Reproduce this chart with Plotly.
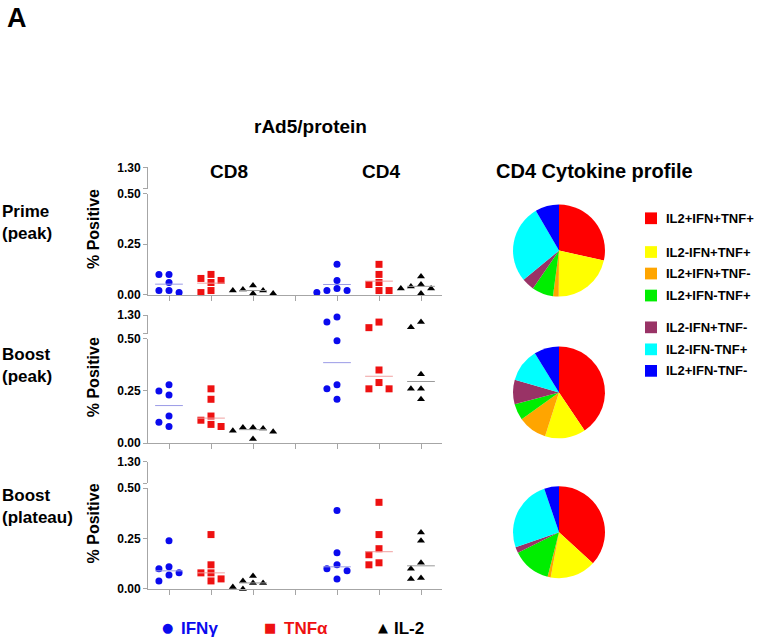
import numpy as np
import plotly.graph_objects as go

W, H = 760, 640

# ---------------- data ----------------
row_labels = ["Prime<br>(peak)", "Boost<br>(peak)", "Boost<br>(plateau)"]
row_stat = ["mean", "median", "median"]        # statistic drawn as the short horizontal bar
subsets = ["CD8", "CD4"]
cytokines = ["IFNγ", "TNFα", "IL-2"]

# % positive cells, one value per animal
prime_cd8_ifn = [0.10, 0.10, 0.06, 0.02, 0.01, 0.02]
prime_cd8_tnf = [0.10, 0.07, 0.06, 0.08, 0.01, 0.02]
prime_cd8_il2 = [0.045, 0.02, 0.025, 0.02, 0.005, 0.005]
prime_cd4_ifn = [0.15, 0.07, 0.02, 0.01, 0.03, 0.02]
prime_cd4_tnf = [0.15, 0.10, 0.05, 0.06, 0.02, 0.02]
prime_cd4_il2 = [0.09, 0.03, 0.05, 0.04, 0.03, 0.005]

boost_cd8_ifn = [0.28, 0.25, 0.23, 0.13, 0.08, 0.10]
boost_cd8_tnf = [0.26, 0.21, 0.13, 0.11, 0.08, 0.09]
boost_cd8_il2 = [0.075, 0.07, 0.075, 0.06, 0.055, 0.02]
boost_cd4_ifn = [1.22, 1.0, 0.49, 0.28, 0.26, 0.21]
boost_cd4_tnf = [0.76, 1.0, 0.35, 0.29, 0.26, 0.26]
boost_cd4_il2 = [0.78, 1.0, 0.33, 0.26, 0.26, 0.21]

plateau_cd8_ifn = [0.24, 0.11, 0.10, 0.08, 0.07, 0.04]
plateau_cd8_tnf = [0.27, 0.12, 0.08, 0.08, 0.05, 0.04]
plateau_cd8_il2 = [0.065, 0.03, 0.04, 0.03, 0.0, 0.01]
plateau_cd4_ifn = [0.39, 0.18, 0.12, 0.10, 0.09, 0.05]
plateau_cd4_tnf = [0.43, 0.27, 0.20, 0.17, 0.13, 0.12]
plateau_cd4_il2 = [0.28, 0.24, 0.13, 0.10, 0.05, 0.055]

panels = [
    [[prime_cd8_ifn, prime_cd8_tnf, prime_cd8_il2], [prime_cd4_ifn, prime_cd4_tnf, prime_cd4_il2]],
    [[boost_cd8_ifn, boost_cd8_tnf, boost_cd8_il2], [boost_cd4_ifn, boost_cd4_tnf, boost_cd4_il2]],
    [[plateau_cd8_ifn, plateau_cd8_tnf, plateau_cd8_il2], [plateau_cd4_ifn, plateau_cd4_tnf, plateau_cd4_il2]],
]

y_ticks_low = [0.0, 0.25, 0.5]
y_ticks_high = [0.5, 1.3]

# CD4 cytokine profile (% of responding CD4 cells), clockwise from 12 o'clock
profile_labels = ["IL2+IFN+TNF+", "IL2-IFN+TNF+", "IL2+IFN+TNF-", "IL2+IFN-TNF+",
                  "IL2-IFN+TNF-", "IL2-IFN-TNF+", "IL2+IFN-TNF-"]
profile_prime = [28.5, 21.6, 2.0, 7.5, 4.4, 27.6, 8.4]
profile_boost = [40.6, 14.3, 10.2, 5.7, 8.6, 11.8, 8.8]
profile_plateau = [36.8, 16.1, 1.1, 13.6, 2.1, 25.1, 5.2]
profiles = [profile_prime, profile_boost, profile_plateau]

# ---------------- styles / layout helpers ----------------
FONT = "Liberation Sans, Arial, sans-serif"
AX = "#a6a6a6"
cyto_color = ["#0a0aee", "#ee1111", "#000000"]
cyto_symbol = ["circle", "square", "triangle-up"]
bar_color = ["#9a9ae6", "#f0a0a0", "#9a9a9a"]
pie_colors = ["#ff0000", "#ffff00", "#ffa500", "#00ee00", "#993366", "#00ffff", "#0000ff"]


def px(x):
    return x / W


def py(y):
    return 1 - y / H


panel_bottom = [294, 446, 595]      # pixel row of 0.00
low_h = [103, 107, 103]             # pixels from 0.00 to 0.50
gap = 5
top_px = [164, 315, 465]            # pixel row of 1.30
x_left, x_right = 148, 442
pie_cy = [249, 394, 537]
pie_cx, pie_r = 559, 47

fig = go.Figure()
layout = {}

STEP = 0.24  # horizontal spread step (category units) for overlapping points


def y_to_px(v, p):
    if v <= 0.5:
        return v * low_h[p] / 0.5
    top = panel_bottom[p] - top_px[p]
    return low_h[p] + gap + (v - 0.5) / 0.8 * (top - low_h[p] - gap)


def spread(vals, p):
    order = np.argsort(vals)[::-1]
    placed = []
    offs = [0.0] * len(vals)
    for i in order:
        yp = y_to_px(vals[i], p)
        for k in [0, -1, 1, -2, 2, -3, 3]:
            if all(not (kk == k and abs(yy - yp) < 7) for kk, yy in placed):
                placed.append((k, yp))
                offs[i] = k * STEP
                break
    return offs


for p in range(3):
    xa = "x" if p == 0 else f"x{p + 1}"
    ylo_n = 2 * p + 1
    yhi_n = 2 * p + 2
    ylo = "y" if ylo_n == 1 else f"y{ylo_n}"
    yhi = f"y{yhi_n}"
    b = panel_bottom[p]
    tickfont = dict(family=FONT, size=12, color="black", weight="bold")
    layout["xaxis" if p == 0 else f"xaxis{p + 1}"] = dict(
        domain=[px(x_left), px(x_right)], range=[0.5, 7.5], anchor=ylo,
        showline=True, linecolor=AX, linewidth=1, ticks="outside", ticklen=5,
        tickcolor=AX, tickvals=[1, 2, 3, 4, 5, 6, 7], showticklabels=False,
        showgrid=False, zeroline=False, fixedrange=True)
    layout["yaxis" if ylo_n == 1 else f"yaxis{ylo_n}"] = dict(
        domain=[py(b), py(b - low_h[p])], range=[0, 0.5], anchor=xa,
        showline=True, linecolor=AX, linewidth=1, ticks="outside", ticklen=4,
        tickcolor=AX, tickvals=y_ticks_low, ticktext=[f"{t:.2f}" for t in y_ticks_low],
        tickfont=tickfont, showgrid=False, zeroline=False, fixedrange=True)
    layout[f"yaxis{yhi_n}"] = dict(
        domain=[py(b - low_h[p] - gap), py(top_px[p])], range=[0.5, 1.3], anchor=xa,
        showline=True, linecolor=AX, linewidth=1, ticks="outside", ticklen=4,
        tickcolor=AX, tickvals=y_ticks_high, ticktext=["", f"{y_ticks_high[1]:.2f}"],
        tickfont=tickfont, showgrid=False, zeroline=False, fixedrange=True)

    for s in range(2):
        for c in range(3):
            vals = panels[p][s][c]
            xc = 1 + c + 4 * s
            offs = spread(vals, p)
            for ax_y, hi in [(ylo, False), (yhi, True)]:
                xs = [xc + o for v, o in zip(vals, offs) if (v > 0.5) == hi]
                ys = [v for v in vals if (v > 0.5) == hi]
                fig.add_trace(go.Scatter(
                    x=xs, y=ys, xaxis=xa, yaxis=ax_y, mode="markers",
                    marker=dict(symbol=cyto_symbol[c], size=7, color=cyto_color[c], line=dict(width=0)),
                    cliponaxis=False, showlegend=False, hoverinfo="y"))
            stat = float(np.mean(vals)) if row_stat[p] == "mean" else float(np.median(vals))
            fig.add_trace(go.Scatter(
                x=[xc - 0.33, xc + 0.33], y=[stat, stat], xaxis=xa,
                yaxis=ylo if stat <= 0.5 else yhi, mode="lines",
                line=dict(color=bar_color[c], width=1), showlegend=False, hoverinfo="skip"))

    fig.add_trace(go.Pie(
        values=profiles[p], labels=profile_labels, sort=False, direction="clockwise",
        rotation=0, textinfo="none", hoverinfo="label+percent",
        marker=dict(colors=pie_colors, line=dict(width=0)), showlegend=False,
        domain=dict(x=[px(pie_cx - pie_r), px(pie_cx + pie_r)],
                    y=[py(pie_cy[p] + pie_r), py(pie_cy[p] - pie_r)])))

annotations = []


def text(x, y, s, size, color="black", xanchor="center", textangle=0, align="center"):
    annotations.append(dict(
        x=px(x), y=py(y), xref="paper", yref="paper", text=s, showarrow=False,
        xanchor=xanchor, yanchor="middle", align=align, textangle=textangle,
        font=dict(family=FONT, size=size, color=color, weight="bold")))


text(5, 11, "A", 27, xanchor="left")
text(310, 122, "rAd5/protein", 19)
text(229, 168, subsets[0], 19)
text(381, 168, subsets[1], 19)
text(594, 168, "CD4 Cytokine profile", 20)

row_label_y = [220, 367, 511]
for p in range(3):
    text(0, row_label_y[p], row_labels[p], 17, xanchor="left", align="left")
    text(93, (panel_bottom[p] + top_px[p]) / 2 - 2, "% Positive", 16, textangle=-90)

# pie legend
legend_rows = [216, 250.5, 272.5, 295, 327.5, 350, 372]
shapes = []
for lab, col, yy in zip(profile_labels, pie_colors, legend_rows):
    shapes.append(dict(type="rect", xref="paper", yref="paper",
                       x0=px(645), x1=px(657), y0=py(yy + 6), y1=py(yy - 6),
                       fillcolor=col, line=dict(width=0)))
    text(664, yy, lab, 13, xanchor="left")

# bottom legend
glyphs = ["●", "■", "▲"]
glyph_x = [167, 270, 383]
label_x = [179, 282, 392]
for g, gx, lx, col, name in zip(glyphs, glyph_x, label_x, cyto_color, cytokines):
    annotations.append(dict(x=px(gx), y=py(634), xref="paper", yref="paper", text=g,
                            showarrow=False, xanchor="center", yanchor="middle",
                            font=dict(family="DejaVu Sans", size=13, color=col)))
    text(lx, 635, name, 17, color=col, xanchor="left")

fig.update_layout(
    width=W, height=H, margin=dict(l=0, r=0, t=0, b=0),
    paper_bgcolor="white", plot_bgcolor="white",
    annotations=annotations, shapes=shapes, **layout)

fig.write_html("out.html", config={"displayModeBar": False},
               post_script="document.body.style.margin='0px';")
